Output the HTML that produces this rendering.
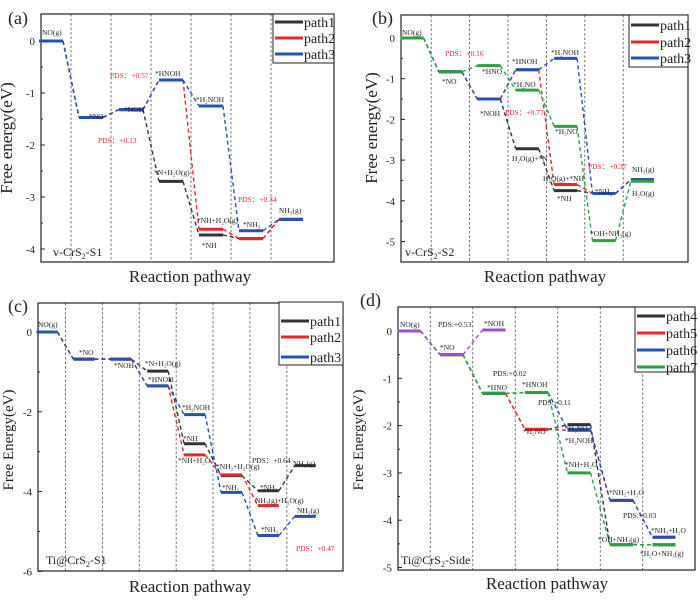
<!DOCTYPE html>
<html><head><meta charset="utf-8">
<style>
html,body{margin:0;padding:0;background:#fff;}
svg{display:block;}
svg text{font-family:"Liberation Serif","DejaVu Serif",serif;}
</style></head>
<body>
<svg id="fig" width="700" height="600" viewBox="0 0 700 600" font-family="'Liberation Serif', serif" xmlns="http://www.w3.org/2000/svg"></svg>
<script>
// ---------- DATA ----------
const aPath1 = [0, -1.47, -1.32, -2.70, -3.73, -3.80, -3.43];
const aPath2 = [0, -1.47, -1.32, -0.75, -3.62, -3.80, -3.43];
const aPath3 = [0, -1.47, -1.32, -0.75, -1.25, -3.65, -3.43];
const aTicks = [0, -1, -2, -3, -4];
const aTickLabels = ["0", "-1", "-2", "-3", "-4"];
const bPath1 = [0, -0.83, -1.50, -2.72, -3.75, -3.82, -3.48];
const bPath2 = [0, -0.83, -1.50, -0.78, -3.60, -3.82, -3.48];
const bPath3 = [0, -0.83, -1.50, -0.78, -0.50, -3.82, -3.48];
const bPathG = [0, -0.83, -0.68, -1.28, -2.17, -4.98, -3.52];
const bTicks = [0, -1, -2, -3, -4, -5];
const bTickLabels = ["0", "-1", "-2", "-3", "-4", "-5"];
const cPath1 = [0, -0.68, -0.68, -0.98, -2.80, -3.60, -3.98, -3.35];
const cPath2 = [0, -0.68, -0.68, -1.35, -3.08, -3.58, -4.35, null];
const cPath3 = [0, -0.68, -0.68, -1.35, -2.07, -4.02, -5.10, -4.62];
const cTicks = [0, -2, -4, -6];
const cTickLabels = ["0", "-2", "-4", "-6"];
const dPath4 = [0, -0.50, -1.32, -2.08, -1.98, -4.52, -4.52];
const dPath5 = [0, -0.50, -1.32, -2.08, -2.10, -3.58, -4.36];
const dPath7 = [0, -0.50, -1.32, -1.30, -3.00, -4.52, -4.52];
const dPath6 = [0, -0.50, -1.32, -1.30, -2.08, -3.58, -4.36];
const dPathP = [0, -0.50, 0.02, null, null, null, null];
const dTicks = [0, -1, -2, -3, -4, -5];
const dTickLabels = ["0", "-1", "-2", "-3", "-4", "-5"];

const BLK="#333333", RED="#e8262b", BLU="#2352b0", GRN="#2e9e48", PUR="#9b4fc7";
const NS="http://www.w3.org/2000/svg";
const FF="'Liberation Serif', serif";
const svg=document.getElementById('fig');
function mk(tag,attrs,parent,txt){const e=document.createElementNS(NS,tag);for(const k in attrs)e.setAttribute(k,attrs[k]);if(tag==='text')e.setAttribute('font-family',FF);if(txt!==undefined)e.textContent=txt;(parent||svg).appendChild(e);return e;}

const panels=[
 {id:'a',L:41,T:14,R:334,B:262,y0:41,k:52,x0:51,dx:40,n:7,w:24,ticks:aTicks,tl:aTickLabels,minor:0.5,
  paths:[[aPath1,BLK,'path1'],[aPath2,RED,'path2'],[aPath3,BLU,'path3']],
  leg:{x:273,y:14,w:61,h:49,ys:[22,38,54],fs:14},
  title:'Free energy(eV)',tx:12,ty:138,tfs:17,lab:'(a)',lx:8,ly:24,xt:[190,282],
  inner:['v-CrS','2','-S1',53,256]},
 {id:'b',L:401,T:15,R:688,B:262,y0:38,k:40.7,x0:412,dx:38.4,n:7,w:23,ticks:bTicks,tl:bTickLabels,minor:0.5,
  paths:[[bPath1,BLK,'path1'],[bPath2,RED,'path2'],[bPath3,BLU,'path3'],[bPathG,GRN,null]],
  leg:{x:629,y:15,w:59,h:52,ys:[25,42,58],fs:14},
  title:'Free energy(eV)',tx:377,ty:128,tfs:17,lab:'(b)',lx:372,ly:24,xt:[545,282],
  inner:['v-CrS','2','-S2',405,256]},
 {id:'c',L:38,T:303,R:343,B:571,y0:332,k:39.9,x0:47,dx:36.9,n:8,w:21,ticks:cTicks,tl:cTickLabels,minor:1,
  paths:[[cPath1,BLK,'path1'],[cPath2,RED,'path2'],[cPath3,BLU,'path3']],
  leg:{x:279,y:302,w:64,h:63,ys:[321,337,357],fs:14},
  title:'Free Energy(eV)',tx:13,ty:440,tfs:15,lab:'(c)',lx:8,ly:312,xt:[190,592],
  inner:['Ti@CrS','2','-S1',46,564]},
 {id:'d',L:398,T:307,R:695,B:570,y0:331,k:47.3,x0:409,dx:42.5,n:7,w:23,ticks:dTicks,tl:dTickLabels,minor:0.5,
  paths:[[dPath4,BLK,'path4'],[dPath5,RED,'path5'],[dPath6,BLU,'path6'],[dPath7,GRN,'path7'],[dPathP,PUR,null]],
  leg:{x:635,y:307,w:60,h:65,ys:[316,333,350,367],fs:14},
  title:'Free Energy(eV)',tx:363,ty:440,tfs:15,lab:'(d)',lx:360,ly:306,xt:[547,589],
  inner:['Ti@CrS','2','-Side',401,564]}
];

const notes={
 a:[['NO(g)',42,35],['*NO',89,119],['*NOH',124,112],['*HNOH',155,76],['*H₂NOH',196,102],['PDS：+0.57',110,78,RED],['PDS：+0.13',98,143,RED],['*N+H₂O(g)',154,175],['*NH+H₂O(g)',197,223],['*NH',202,248],['*NH₃',243,227],['PDS：+0.34',238,202,RED],['NH₃(g)',279,213]],
 b:[['NO(g)',402,35],['*NO',442,84],['PDS：+0.16',445,56,RED],['*HNO',482,74],['*HNOH',512,64],['*H₂NOH',551,55],['*H₂NO',513,87],['*NOH',480,116],['PDS：+0.77',505,115,RED],['*H₃NO',555,134],['H₂O(g)+*N',512,161],['H₂O(g)+*NH',543,181],['*NH',557,201],['*NH₂',595,194],['PDS：+0.37',588,169,RED],['NH₃(g)',632,172],['H₂O(g)',632,196],['*OH+NH₃(g)',590,236]],
 c:[['NO(g)',38,327],['*NO',79,355],['*NOH',114,368],['*N+H₂O(g)',145,366],['*HNOH',148,382],['*H₂NOH',182,410],['*NH',183,441],['*NH+H₂O',178,463],['*NH₂+H₂O(g)',216,469],['*NH₂',222,490],['*NH₃',260,490],['NH₃(g)+H₂O(g)',255,503],['PDS：+0.64',252,463],['NH₃(g)',293,466],['NH₃(g)',297,513],['*NH₃',261,532],['PDS：+0.47',296,551,RED]],
 d:[['NO(g)',400,327],['PDS:+0.53',438,327],['*NOH',484,326],['*NO',440,350],['PDS:+0.02',493,376],['*HNO',487,390],['*HNOH',522,387],['PDS:+0.11',538,405],['*H₂NO',523,434],['*H₃NO',565,431],['*H₂NOH',565,443],['*NH+H₂O',565,467],['*NH₂+H₂O',609,495],['PDS:+0.03',623,518],['*NH₃+H₂O',651,533],['*OH+NH₃(g)',598,542],['*H₂O+NH₃(g)',640,556]]
};

panels.forEach(p=>{
 const g=mk('g',{});
 
 
 const X=i=>p.x0+i*p.dx;
 const Y=v=>p.y0-v*p.k;
 for(let i=0;i<p.n-1;i++){
  const sx=X(i+0.5);
  const l=mk('line',{x1:sx,y1:p.T,x2:sx,y2:p.B,stroke:'#555','stroke-width':0.8,'stroke-dasharray':'2.5,2'},g);
  
  
 }
 const fr=mk('rect',{x:p.L,y:p.T,width:p.R-p.L,height:p.B-p.T,fill:'none',stroke:'#222','stroke-width':1.2},g);
 
 
 const tmax=p.ticks[0], tmin=p.ticks[p.ticks.length-1];
 for(let v=tmax;v>=tmin-1e-9;v-=p.minor){
  const major=p.ticks.some(t=>Math.abs(t-v)<1e-6);
  mk('line',{x1:p.L,y1:Y(v),x2:p.L+(major?4:2),y2:Y(v),stroke:'#222','stroke-width':1},g);
 }
 p.ticks.forEach((t,i)=>{
  const tx=mk('text',{x:p.L-6,y:Y(t)+4,'font-size':11,'text-anchor':'end',fill:'#222'},g,p.tl[i]);
  
  
 });
 p.paths.forEach(([vals,col,nm])=>{
  const pg=mk('g',{},g);
  
  
  let prev=null;
  vals.forEach((v,i)=>{
   if(v===null)return;
   if(prev!==null){
    const c=mk('line',{x1:X(prev)+p.w/2,y1:Y(vals[prev]),x2:X(i)-p.w/2,y2:Y(v),stroke:col,'stroke-width':1.4,'stroke-dasharray':'4,3'},pg);
    
    
   }
   const lv=mk('line',{x1:X(i)-p.w/2,y1:Y(v),x2:X(i)+p.w/2,y2:Y(v),stroke:col,'stroke-width':3},pg);
   
   
   prev=i;
  });
 });
 (notes[p.id]||[]).forEach(n=>{
  const t=mk('text',{x:n[1],y:n[2],'font-size':7.5,fill:n[3]||'#222'},g,n[0]);
  
  
 });
 const lg=mk('g',{},g);
 
 
 mk('rect',{x:p.leg.x,y:p.leg.y,width:p.leg.w,height:p.leg.h,fill:'#fff',stroke:'#222','stroke-width':1},lg);
 p.paths.filter(q=>q[2]).forEach((q,i)=>{
  const y=p.leg.ys[i];
  const e=mk('g',{},lg);
  
  
  mk('line',{x1:p.leg.x+2,y1:y,x2:p.leg.x+30,y2:y,stroke:q[1],'stroke-width':3},e);
  mk('text',{x:p.leg.x+31,y:y+5,'font-size':p.leg.fs,fill:'#222'},e,q[2]);
 });
 const yt=mk('text',{x:p.tx,y:p.ty,'font-size':p.tfs,'text-anchor':'middle',transform:`rotate(-90 ${p.tx} ${p.ty})`,fill:'#222'},g,p.title);
 
 
 const xt=mk('text',{x:p.xt[0],y:p.xt[1],'font-size':17,'text-anchor':'middle',fill:'#222'},g,'Reaction pathway');
 
 
 const pl=mk('text',{x:p.lx,y:p.ly,'font-size':18,fill:'#222'},g,p.lab);
 
 
 const it=mk('text',{x:p.inner[3],y:p.inner[4],'font-size':12,fill:'#222'},g);
 
 
 mk('tspan',{},it,p.inner[0]);
 mk('tspan',{'font-size':8,dy:3},it,p.inner[1]);
 mk('tspan',{dy:-3},it,p.inner[2]);
});
</script>
</body></html>
